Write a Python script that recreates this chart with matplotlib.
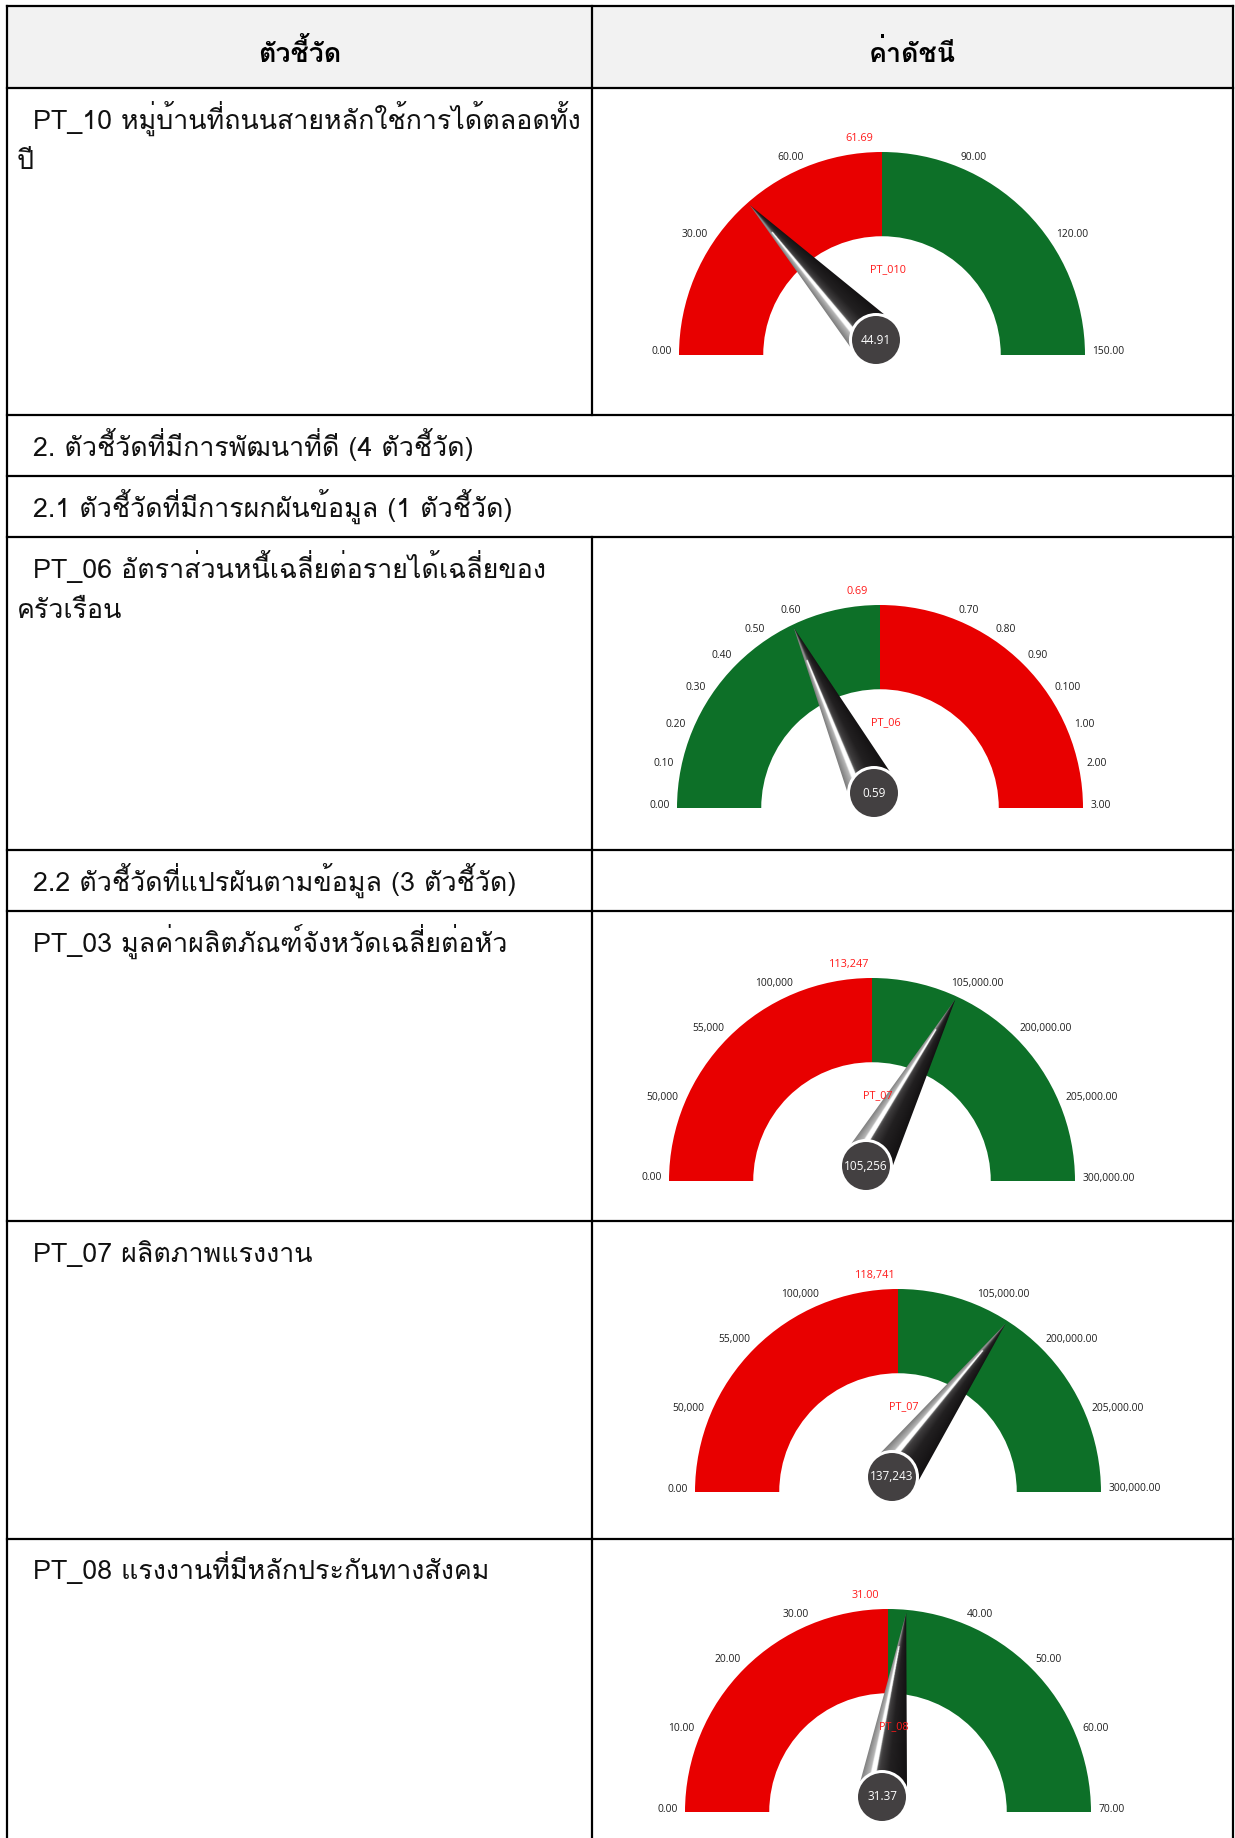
import numpy as np
import matplotlib
matplotlib.use("Agg")
import matplotlib.pyplot as plt
from matplotlib.patches import Wedge, Circle, Polygon, Rectangle
from matplotlib.colors import LinearSegmentedColormap
from matplotlib import font_manager as fm
from matplotlib.ft2font import FT2Font

W, H = 1235, 1838

# ---- table text ----
header_left = "ตัวชี้วัด"
header_right = "ค่าดัชนี"
row_texts = [
    ["PT_10 หมู่บ้านที่ถนนสายหลักใช้การได้ตลอดทั้ง", "ปี"],
    ["2. ตัวชี้วัดที่มีการพัฒนาที่ดี (4 ตัวชี้วัด)"],
    ["2.1 ตัวชี้วัดที่มีการผกผันข้อมูล (1 ตัวชี้วัด)"],
    ["PT_06 อัตราส่วนหนี้เฉลี่ยต่อรายได้เฉลี่ยของ", "ครัวเรือน"],
    ["2.2 ตัวชี้วัดที่แปรผันตามข้อมูล (3 ตัวชี้วัด)"],
    ["PT_03 มูลค่าผลิตภัณฑ์จังหวัดเฉลี่ยต่อหัว"],
    ["PT_07 ผลิตภาพแรงงาน"],
    ["PT_08 แรงงานที่มีหลักประกันทางสังคม"],
]
row_gauge = [0, None, None, 1, None, 2, 3, 4]
row_merged = [False, True, True, False, False, False, False, False]

# ---- gauge data ----
gauge_codes = ["PT_010", "PT_06", "PT_07", "PT_07", "PT_08"]
needle_texts = ["44.91", "0.59", "105,256", "137,243", "31.37"]
needle_pos = [0.27, 0.358, 0.637, 0.681, 0.529]   # reading along the dial sweep (0 = left end, 1 = right end)
target_texts = ["61.69", "0.69", "113,247", "118,741", "31.00"]
left_labels = [
    ["0.00", "30.00", "60.00"],
    ["0.00", "0.10", "0.20", "0.30", "0.40", "0.50", "0.60"],
    ["0.00", "50,000", "55,000", "100,000"],
    ["0.00", "50,000", "55,000", "100,000"],
    ["0.00", "10.00", "20.00", "30.00"],
]
right_labels = [
    ["90.00", "120.00", "150.00"],
    ["0.70", "0.80", "0.90", "0.100", "1.00", "2.00", "3.00"],
    ["105,000.00", "200,000.00", "205,000.00", "300,000.00"],
    ["105,000.00", "200,000.00", "205,000.00", "300,000.00"],
    ["40.00", "50.00", "60.00", "70.00"],
]
higher_is_better = [True, False, True, True, True]

# ---- layout (pixels) ----
row_edges = [6, 88, 415, 476, 537, 849.5, 910.5, 1221, 1538.5]
x_left, x_div, x_right = 7, 592, 1233
gauge_cx = [882, 880, 872, 898, 888]
gauge_base = [355, 808, 1181, 1492, 1812]
R = 203
RED, GREEN = "#e80000", "#0d7028"


def find_thai_font():
    seen = set()
    for f in fm.fontManager.ttflist:
        if f.fname in seen:
            continue
        seen.add(f.fname)
        try:
            if 0x0E01 in FT2Font(f.fname).get_charmap():
                return f.name
        except Exception:
            pass
    for path in fm.findSystemFonts():
        if path in seen:
            continue
        try:
            if 0x0E01 in FT2Font(path).get_charmap():
                fm.fontManager.addfont(path)
                return fm.FontProperties(fname=path).get_name()
        except Exception:
            pass
    return None


thai = find_thai_font()
thai_family = [thai, "DejaVu Sans"] if thai else ["DejaVu Sans"]

fig = plt.figure(figsize=(W / 100, H / 100), dpi=100)
ax = fig.add_axes([0, 0, 1, 1])
ax.set_xlim(0, W)
ax.set_ylim(H, 0)
ax.axis("off")

# fit body font size to the width of the first row's text
probe = ax.text(0, 0, row_texts[0][0], fontsize=20, family=thai_family)
bb = probe.get_window_extent(fig.canvas.get_renderer())
fs = 20 * 548 / bb.width
probe.remove()

# header
ax.add_patch(Rectangle((x_left, row_edges[0]), x_right - x_left, row_edges[1] - row_edges[0],
                       fc="#f2f2f2", ec="none"))
ax.text((x_left + x_div) / 2, 62, header_left, ha="center", va="baseline",
        fontsize=fs, fontweight="bold", family=thai_family)
ax.text((x_div + x_right) / 2, 62, header_right, ha="center", va="baseline",
        fontsize=fs, fontweight="bold", family=thai_family)

# grid lines
lw = 1.6
for y in row_edges:
    ax.plot([x_left, x_right], [y, y], color="black", lw=lw, solid_capstyle="projecting")
for x in (x_left, x_right):
    ax.plot([x, x], [row_edges[0], H], color="black", lw=lw)
tops = row_edges[1:]
bottoms = row_edges[2:] + [H]
ax.plot([x_div, x_div], [row_edges[0], row_edges[1]], color="black", lw=lw)
for top, bot, merged in zip(tops, bottoms, row_merged):
    if not merged:
        ax.plot([x_div, x_div], [top, bot], color="black", lw=lw)

# row texts
for top, lines in zip(tops, row_texts):
    for j, line in enumerate(lines):
        x = 33 if j == 0 else 17
        ax.text(x, top + 41 + 40 * j, line, ha="left", va="baseline",
                fontsize=fs, family=thai_family, color="#111111")

# needle colour ramps, s = 0 dark edge, s = 1 light edge
cm_stripe = LinearSegmentedColormap.from_list("stripe", [
    (0.0, "#141213"), (0.4, "#222021"), (0.62, "#3e3c3d"), (0.68, "#5a5a5a"),
    (0.70, "#ffffff"), (0.80, "#ffffff"), (0.83, "#b8b8b8"), (1.0, "#7e7e7e")])
cm_plain = LinearSegmentedColormap.from_list("plain", [
    (0.0, "#141213"), (0.4, "#222021"), (0.62, "#3e3c3d"), (0.75, "#6e6e6e"),
    (0.85, "#9a9a9a"), (1.0, "#7e7e7e")])


def draw_gauge(k):
    cx, base = gauge_cx[k], gauge_base[k]
    gax = fig.add_axes([(cx - 260) / W, (H - base - 45) / H, 520 / W, 285 / H])
    gax.patch.set_alpha(0)
    gax.axis("off")

    left_c, right_c = (RED, GREEN) if higher_is_better[k] else (GREEN, RED)
    gax.add_patch(Wedge((0, 0), R, 90, 180, width=R * 0.415, fc=left_c, ec="none", zorder=1))
    gax.add_patch(Wedge((0, 0), R, 0, 90, width=R * 0.415, fc=right_c, ec="none", zorder=1))

    tick_font = dict(fontsize=7.4, family="Open Sans", color="#1e1e1e")
    gap = 22
    for lab, a in zip(left_labels[k], np.linspace(180, 90 + gap, len(left_labels[k]))):
        t = np.radians(a)
        gax.text(1.035 * R * np.cos(t), 1.035 * R * np.sin(t) + 3, lab,
                 ha="right", va="center", **tick_font)
    for lab, a in zip(right_labels[k], np.linspace(90 - gap, 0, len(right_labels[k]))):
        t = np.radians(a)
        gax.text(1.035 * R * np.cos(t), 1.035 * R * np.sin(t) + 3, lab,
                 ha="left", va="center", **tick_font)
    gax.text(-0.11 * R, 1.065 * R, target_texts[k], ha="center", va="center",
             fontsize=7.8, family="Open Sans", color="#ff1a1a")
    gax.text(0.03 * R, 0.42 * R, gauge_codes[k], ha="center", va="center",
             fontsize=7.8, family="Open Sans", color="#ff1a1a", zorder=3.5)

    # needle
    theta = np.radians(180 * (1 - needle_pos[k]))
    hub = np.array([-6.0, 15.0])
    tip = 0.985 * R * np.array([np.cos(theta), np.sin(theta)])
    d = tip - hub
    L = np.hypot(*d)
    d = d / L
    n = np.array([-d[1], d[0]])
    u0, w0 = 13.0, 23.5
    pts = np.array([hub + d * u0 + n * w0, tip, hub + d * u0 - n * w0])
    tri = Polygon(pts, closed=True, fc="none", ec="none", zorder=3)
    gax.add_patch(tri)
    x0, y0 = pts.min(axis=0) - 2
    x1, y1 = pts.max(axis=0) + 2
    gx, gy = np.meshgrid(np.linspace(x0, x1, int(x1 - x0) * 2),
                         np.linspace(y0, y1, int(y1 - y0) * 2))
    rx, ry = gx - hub[0], gy - hub[1]
    u = rx * d[0] + ry * d[1]
    v = rx * n[0] + ry * n[1]
    frac = np.clip((u - u0) / (L - u0), 0, 0.999)
    s = (np.clip(v / (w0 * (1 - frac)), -1, 1) + 1) / 2
    stripe = (frac < 0.8)[..., None]
    rgba = np.where(stripe, cm_stripe(s), cm_plain(s))
    im = gax.imshow(rgba, extent=(x0, x1, y0, y1), origin="lower",
                    interpolation="bilinear", zorder=3)
    im.set_clip_path(tri)

    gax.add_patch(Circle(hub, 27, fc="white", ec="none", zorder=4))
    gax.add_patch(Circle(hub, 24, fc="#434041", ec="none", zorder=5))
    gax.text(hub[0], hub[1], needle_texts[k], ha="center", va="center",
             fontsize=8.5, family="Open Sans", color="white", zorder=6)

    gax.set_xlim(-260, 260)
    gax.set_ylim(-45, 240)
    gax.set_aspect("equal")


for g in row_gauge:
    if g is not None:
        draw_gauge(g)

fig.savefig("out.png", dpi=100)
